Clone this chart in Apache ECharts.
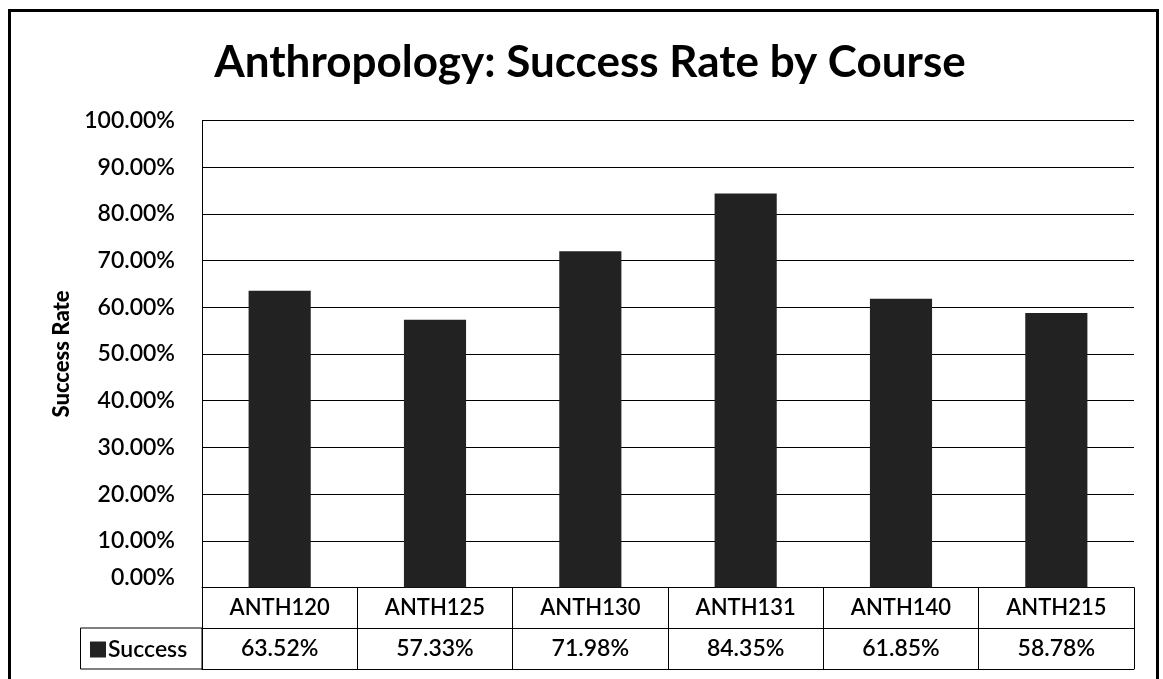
<!DOCTYPE html>
<html>
<head>
<meta charset="utf-8">
<script src="https://cdn.jsdelivr.net/npm/echarts@6/dist/echarts.min.js"></script>
<style>
  html, body { margin: 0; padding: 0; background: #fff; }
  #chart { width: 1163px; height: 679px; }
</style>
</head>
<body>
<div id="chart"></div>
<script>
// Course success rates (fraction of enrolled students passing)
const courses = ['ANTH120', 'ANTH125', 'ANTH130', 'ANTH131', 'ANTH140', 'ANTH215'];
const successRate = [0.6352, 0.5733, 0.7198, 0.8435, 0.6185, 0.5878];
const seriesName = 'Success';

const FONT = 'Lato, "Open Sans", sans-serif';
const TEXT_WEIGHT = 600;
const pct = v => (v * 100).toFixed(2) + '%';

const chart = echarts.init(document.getElementById('chart'), null, { renderer: 'canvas' });

chart.setOption({
  backgroundColor: '#fff',
  animation: false,
  title: {
    text: 'Anthropology: Success Rate by Course',
    left: 585,
    textAlign: 'center',
    top: 36,
    textStyle: { fontFamily: FONT, fontWeight: 'bold', fontSize: 44, color: '#000' }
  },
  legend: {
    data: [seriesName],
    left: 85,
    top: 633,
    icon: 'rect',
    itemWidth: 16,
    itemHeight: 16,
    itemGap: 4,
    textStyle: { fontFamily: FONT, fontWeight: TEXT_WEIGHT, fontSize: 23, color: '#000', padding: [0, 0, 0, -3] }
  },
  grid: { left: 202, right: 29, top: 120.5, bottom: 91.5, containLabel: false },
  yAxis: {
    type: 'value',
    min: 0,
    max: 1,
    interval: 0.1,
    name: 'Success Rate',
    nameLocation: 'middle',
    nameGap: 128,
    nameTextStyle: { fontFamily: FONT, fontWeight: 900, fontSize: 22, color: '#000' },
    axisLine: { show: true, lineStyle: { color: '#000', width: 1 } },
    axisTick: { show: false },
    axisLabel: {
      margin: 27,
      fontFamily: FONT,
      fontWeight: TEXT_WEIGHT,
      fontSize: 23,
      color: '#000',
      formatter: v => v === 0 ? '{z|' + pct(v) + '}' : pct(v),
      rich: { z: { fontFamily: FONT, fontWeight: TEXT_WEIGHT, fontSize: 23, color: '#000', padding: [0, 0, 20, 0] } }
    },
    splitLine: { show: true, lineStyle: { color: '#000', width: 1 } }
  },
  xAxis: [
    {
      // category row of the data table
      type: 'category',
      data: courses,
      position: 'bottom',
      axisLine: { show: true, lineStyle: { color: '#000', width: 1 } },
      axisTick: { show: true, alignWithLabel: false, length: 81.5, lineStyle: { color: '#000', width: 1 } },
      axisLabel: { margin: 9, fontFamily: FONT, fontWeight: TEXT_WEIGHT, fontSize: 22, color: '#000' },
      splitLine: { show: false }
    },
    {
      // value row of the data table
      type: 'category',
      data: courses,
      position: 'bottom',
      offset: 40.5,
      axisLine: { show: true, lineStyle: { color: '#000', width: 1 } },
      axisTick: { show: false },
      axisLabel: {
        margin: 9,
        fontFamily: FONT,
        fontWeight: TEXT_WEIGHT,
        fontSize: 23,
        color: '#000',
        formatter: (val, idx) => pct(successRate[idx])
      }
    },
    {
      // bottom edge of the data table
      type: 'category',
      data: courses,
      position: 'bottom',
      offset: 81.5,
      axisLine: { show: true, lineStyle: { color: '#000', width: 1 } },
      axisTick: { show: false },
      axisLabel: { show: false }
    }
  ],
  series: [
    {
      name: seriesName,
      type: 'bar',
      xAxisIndex: 0,
      data: successRate,
      barWidth: '40%',
      itemStyle: { color: '#222' }
    }
  ],
  graphic: [
    {
      // legend key cell of the data table
      type: 'rect',
      shape: { x: 80.5, y: 628, width: 121.5, height: 41 },
      style: { fill: 'none', stroke: '#000', lineWidth: 1 },
      silent: true
    },
    {
      // chart area frame
      type: 'rect',
      shape: { x: 9.5, y: 10.5, width: 1148, height: 700 },
      style: { fill: 'none', stroke: '#000', lineWidth: 3 },
      silent: true
    }
  ]
});
</script>
</body>
</html>
